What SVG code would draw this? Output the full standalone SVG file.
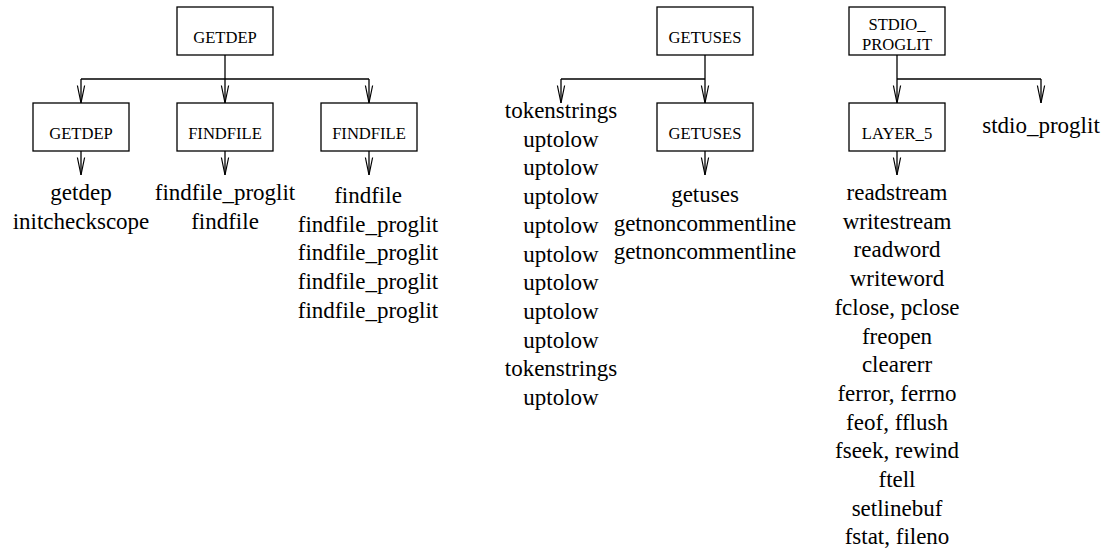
<svg xmlns="http://www.w3.org/2000/svg" width="1112" height="550" viewBox="0 0 1112 550">
  <style>
    .box { fill: #fff; stroke: #000; stroke-width: 1.3; }
    .lbl { font-size: 16.6px; text-anchor: middle; fill: #000; }
    .lst { font-size: 23px; text-anchor: middle; fill: #000; }
    .wire { fill: none; stroke: #000; stroke-width: 1.3; }
  </style>
  <defs>
    <!-- open "V" arrowhead, drawn along +x so orient="auto" points it down the wire -->
    <marker id="vee" markerUnits="userSpaceOnUse" markerWidth="22" markerHeight="12" viewBox="-19 -6 22 12" refX="0" refY="0" orient="auto">
      <path d="M -17.5 -3.6 L 0 0 L -17.5 3.6" fill="none" stroke="#000" stroke-width="1.2"/>
    </marker>
  </defs>
  <rect width="1112" height="550" fill="#fff"/>

  <!-- connectors -->
  <g id="connectors" class="wire">
    <!-- GETDEP fan-out -->
    <path d="M 225 55 V 79"/>
    <path d="M 81 79 H 369"/>
    <path d="M 81 79 V 103" marker-end="url(#vee)"/>
    <path d="M 225 79 V 103" marker-end="url(#vee)"/>
    <path d="M 369 79 V 103" marker-end="url(#vee)"/>
    <path d="M 81 151 V 175" marker-end="url(#vee)"/>
    <path d="M 225 151 V 175" marker-end="url(#vee)"/>
    <path d="M 369 151 V 175" marker-end="url(#vee)"/>
    <!-- GETUSES fan-out -->
    <path d="M 705 55 V 79"/>
    <path d="M 561 79 H 705"/>
    <path d="M 561 79 V 103" marker-end="url(#vee)"/>
    <path d="M 705 79 V 103" marker-end="url(#vee)"/>
    <path d="M 705 151 V 175" marker-end="url(#vee)"/>
    <!-- STDIO_PROGLIT fan-out -->
    <path d="M 897 55 V 79"/>
    <path d="M 897 79 H 1041"/>
    <path d="M 897 79 V 103" marker-end="url(#vee)"/>
    <path d="M 1041 79 V 103" marker-end="url(#vee)"/>
    <path d="M 897 151 V 175" marker-end="url(#vee)"/>
  </g>

  <g font-family="'Liberation Serif', 'DejaVu Serif', 'Times New Roman', serif">
  <!-- modules -->
  <g id="getdep-top">
    <rect class="box" x="177" y="7" width="96" height="48"/>
    <text class="lbl" x="225" y="43">GETDEP</text>
  </g>
  <g id="getdep">
    <rect class="box" x="33" y="103" width="96" height="48"/>
    <text class="lbl" x="81" y="139">GETDEP</text>
    <text class="lst"><tspan x="81" y="200">getdep</tspan><tspan x="81" y="228.7">initcheckscope</tspan></text>
  </g>
  <g id="findfile-a">
    <rect class="box" x="177" y="103" width="96" height="48"/>
    <text class="lbl" x="225" y="139">FINDFILE</text>
    <text class="lst"><tspan x="225" y="200">findfile_proglit</tspan><tspan x="225" y="228.7">findfile</tspan></text>
  </g>
  <g id="findfile-b">
    <rect class="box" x="321" y="103" width="96" height="48"/>
    <text class="lbl" x="369" y="139">FINDFILE</text>
    <text class="lst"><tspan x="368" y="203">findfile</tspan><tspan x="368" y="231.7">findfile_proglit</tspan><tspan x="368" y="260.4">findfile_proglit</tspan><tspan x="368" y="289.1">findfile_proglit</tspan><tspan x="368" y="317.8">findfile_proglit</tspan></text>
  </g>

  <g id="getuses-top">
    <rect class="box" x="657" y="7" width="96" height="48"/>
    <text class="lbl" x="705" y="43">GETUSES</text>
  </g>
  <g id="tokenstrings">
    <text class="lst"><tspan x="561" y="118">tokenstrings</tspan><tspan x="561" y="146.7">uptolow</tspan><tspan x="561" y="175.4">uptolow</tspan><tspan x="561" y="204.1">uptolow</tspan><tspan x="561" y="232.8">uptolow</tspan><tspan x="561" y="261.5">uptolow</tspan><tspan x="561" y="290.2">uptolow</tspan><tspan x="561" y="318.9">uptolow</tspan><tspan x="561" y="347.6">uptolow</tspan><tspan x="561" y="376.3">tokenstrings</tspan><tspan x="561" y="405">uptolow</tspan></text>
  </g>
  <g id="getuses">
    <rect class="box" x="657" y="103" width="96" height="48"/>
    <text class="lbl" x="705" y="139">GETUSES</text>
    <text class="lst"><tspan x="705" y="202">getuses</tspan><tspan x="705" y="230.7">getnoncommentline</tspan><tspan x="705" y="259.4">getnoncommentline</tspan></text>
  </g>

  <g id="stdio-proglit-top">
    <rect class="box" x="849" y="7" width="96" height="48"/>
    <text class="lbl"><tspan x="897" y="30">STDIO_</tspan><tspan x="897" y="50">PROGLIT</tspan></text>
  </g>
  <g id="layer5">
    <rect class="box" x="849" y="103" width="96" height="48"/>
    <text class="lbl" x="897" y="139">LAYER_5</text>
    <text class="lst"><tspan x="897" y="200">readstream</tspan><tspan x="897" y="228.7">writestream</tspan><tspan x="897" y="257.4">readword</tspan><tspan x="897" y="286.1">writeword</tspan><tspan x="897" y="314.8">fclose, pclose</tspan><tspan x="897" y="343.5">freopen</tspan><tspan x="897" y="372.2">clearerr</tspan><tspan x="897" y="400.9">ferror, ferrno</tspan><tspan x="897" y="429.6">feof, fflush</tspan><tspan x="897" y="458.3">fseek, rewind</tspan><tspan x="897" y="487">ftell</tspan><tspan x="897" y="515.7">setlinebuf</tspan><tspan x="897" y="544.4">fstat, fileno</tspan></text>
  </g>
  <g id="stdio-proglit">
    <text class="lst" x="1041" y="133">stdio_proglit</text>
  </g>
  </g>
</svg>
